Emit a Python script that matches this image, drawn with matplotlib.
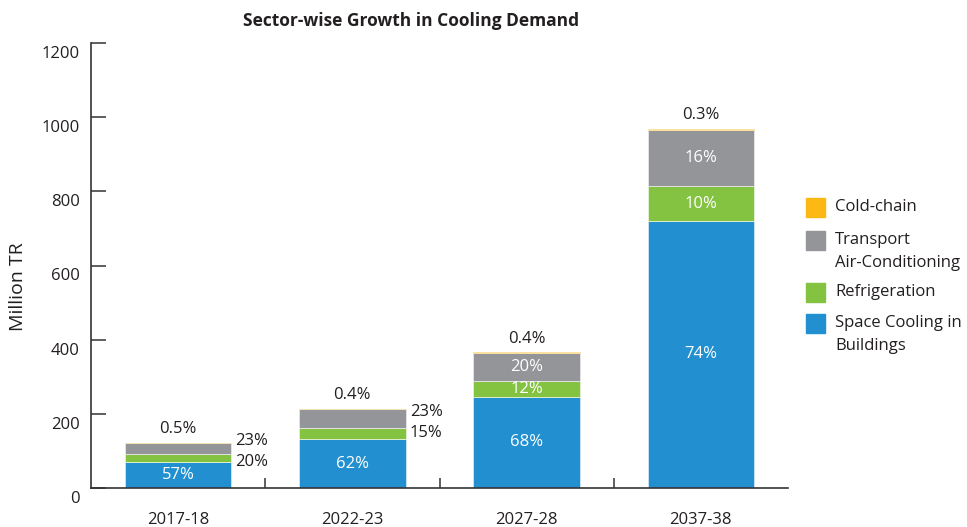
import matplotlib
matplotlib.use("Agg")
import matplotlib.pyplot as plt
import matplotlib.transforms as mtransforms
from matplotlib.patches import Rectangle
import numpy as np

plt.rcParams['font.family'] = ['Open Sans', 'DejaVu Sans']

# data (Million TR)
years = ['2017-18', '2022-23', '2027-28', '2037-38']
space_cooling = [69, 132, 246, 720]
refrigeration = [24, 30, 43, 94]
transport_ac = [28, 51, 76, 152]
cold_chain = [0.6, 0.9, 1.4, 2.9]

space_pct = ['57%', '62%', '68%', '74%']
refrig_pct = ['20%', '15%', '12%', '10%']
transport_pct = ['23%', '23%', '20%', '16%']
cold_pct = ['0.5%', '0.4%', '0.4%', '0.3%']

legend_labels = [['Cold-chain'], ['Transport', 'Air-Conditioning'],
                 ['Refrigeration'], ['Space Cooling in', 'Buildings']]

c_blue = '#2290d0'
c_green = '#84c341'
c_grey = '#939598'
c_yellow = '#fdb913'
c_text = '#231f20'

fig = plt.figure(figsize=(9.67, 5.27), dpi=100)
ax = fig.add_axes([91/967, 39/527, (788-91)/967, (488-43)/527])

x = np.arange(len(years))
w = 0.61
b1 = np.array(space_cooling)
b2 = b1 + np.array(refrigeration)
b3 = b2 + np.array(transport_ac)

ax.bar(x, space_cooling, w, color=c_blue, edgecolor='#cfe6f5', linewidth=0.6)
ax.bar(x, refrigeration, w, bottom=b1, color=c_green, edgecolor='#e6f2d8', linewidth=0.6)
ax.bar(x, transport_ac, w, bottom=b2, color=c_grey, edgecolor='#e8e8e8', linewidth=0.6)
ax.bar(x, cold_chain, w, bottom=b3, color=c_yellow, edgecolor='#fbe3a8', linewidth=0.6)

fs = 12
for i in range(len(years)):
    ax.text(x[i], b1[i] / 2, space_pct[i], color='white', ha='center', va='center', fontsize=fs)
    ax.annotate(cold_pct[i], (x[i], b3[i] + cold_chain[i]), xytext=(0, 4),
                textcoords='offset points', ha='center', va='bottom', fontsize=fs, color=c_text)
    if i >= 2:
        ax.text(x[i], (b1[i] + b2[i]) / 2, refrig_pct[i], color='white', ha='center', va='center', fontsize=fs)
        ax.text(x[i], (b2[i] + b3[i]) / 2, transport_pct[i], color='white', ha='center', va='center', fontsize=fs)

# small bars: labels on the right side
ax.annotate(transport_pct[0], (x[0] + w/2, (b2[0] + b3[0]) / 2), xytext=(3, 5),
            textcoords='offset points', ha='left', va='center', fontsize=fs, color=c_text)
ax.annotate(refrig_pct[0], (x[0] + w/2, (b1[0] + b2[0]) / 2), xytext=(3, -3),
            textcoords='offset points', ha='left', va='center', fontsize=fs, color=c_text)
ax.annotate(transport_pct[1], (x[1] + w/2, (b2[1] + b3[1]) / 2), xytext=(3, 5),
            textcoords='offset points', ha='left', va='center', fontsize=fs, color=c_text)
ax.annotate(refrig_pct[1], (x[1] + w/2, (b1[1] + b2[1]) / 2), xytext=(3, 0),
            textcoords='offset points', ha='left', va='center', fontsize=fs, color=c_text)

ax.set_xlim(-0.5, 3.5)
ax.set_ylim(0, 1200)
ax.set_yticks(range(0, 1201, 200))
ax.set_xticks(x)
ax.set_xticklabels(years)
ax.set_xticks([0.5, 1.5, 2.5], minor=True)

for s in ['top', 'right']:
    ax.spines[s].set_visible(False)
for s in ['left', 'bottom']:
    ax.spines[s].set_color('#333333')
    ax.spines[s].set_linewidth(1.2)

ax.tick_params(axis='y', direction='in', length=11, width=1.1, color='#333333',
               labelsize=fs, labelcolor=c_text, pad=8)
ax.tick_params(axis='x', which='major', length=0, pad=17, labelsize=fs, labelcolor=c_text)
ax.tick_params(axis='x', which='minor', direction='in', length=7, width=1.1, color='#333333')

# y tick labels sit a bit below their ticks
off = mtransforms.ScaledTranslation(0, -9/100, fig.dpi_scale_trans)
for lab in ax.get_yticklabels():
    lab.set_transform(lab.get_transform() + off)

# y label sits a little below the middle of the axis in the original
fig.text(18/967, 1 - 287/527, 'Million TR', rotation=90, ha='center', va='center',
         fontsize=14, color=c_text)

fig.text(411/967, 1 - 21/527, 'Sector-wise Growth in Cooling Demand', ha='center', va='center',
         fontsize=12.5, fontweight='bold', color=c_text)

# legend drawn by hand so the swatch lines up with the first text line
colors = [c_yellow, c_grey, c_green, c_blue]
first_line_y = [207, 240, 292, 323]
for col, lines, yp in zip(colors, legend_labels, first_line_y):
    fig.add_artist(Rectangle((806/967, (527 - yp - 9.5)/527), 19/967, 19/527,
                             transform=fig.transFigure, color=col))
    for k, line in enumerate(lines):
        fig.text(835/967, (527 - yp - 23*k)/527, line, ha='left', va='center',
                 fontsize=fs, color=c_text)

fig.savefig('out.png', dpi=100)
